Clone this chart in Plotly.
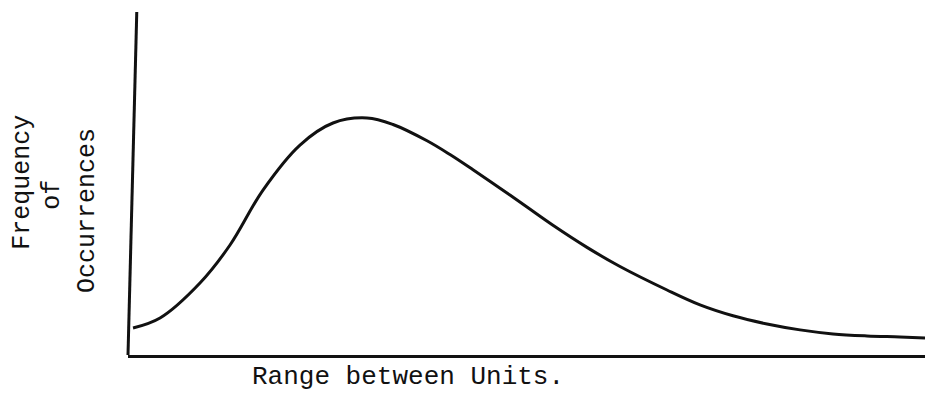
import plotly.graph_objects as go

# Curve (arbitrary units: x 0-100 along axis, y 0-100 up the axis)
range_units = [0.63, 4.02, 9.03, 12.80, 16.94, 21.58, 25.72, 29.99, 33.25, 37.52, 40.40,
               43.29, 46.68, 50.06, 53.32, 57.59, 61.73, 67.63, 71.77, 75.91, 80.18,
               84.32, 88.46, 92.72, 96.86, 100.0]
frequency = [7.87, 10.79, 20.99, 32.07, 48.10, 61.22, 67.64, 69.10, 67.20, 62.45, 58.43,
             53.99, 48.63, 43.12, 37.81, 31.37, 25.80, 18.95, 14.61, 11.43, 9.04,
             7.32, 6.15, 5.57, 5.28, 4.99]

x_title = "Range between Units."
y_title_lines = ["Frequency", "of", "Occurrences"]

FONT = "Courier New, Liberation Mono, monospace"
INK = "#111111"

fig = go.Figure()
fig.add_trace(go.Scatter(
    x=range_units, y=frequency, mode="lines",
    line=dict(color=INK, width=3, shape="spline", smoothing=1.0),
    hoverinfo="skip", showlegend=False,
))

# y-title lines: slightly staggered as in the typed original
ylab_pos = [(-0.1317, 0.502), (-0.0941, 0.467), (-0.0502, 0.423)]
annotations = [
    dict(text=x_title, xref="paper", yref="paper", x=0.351, y=-0.1137,
         xanchor="center", yanchor="bottom", showarrow=False,
         font=dict(family=FONT, size=26, color=INK)),
]
for line, (px, py) in zip(y_title_lines, ylab_pos):
    annotations.append(dict(text=line, xref="paper", yref="paper", x=px, y=py,
                            xanchor="center", yanchor="middle", textangle=-90,
                            showarrow=False,
                            font=dict(family=FONT, size=25, color=INK)))

fig.update_layout(
    width=927, height=394,
    margin=dict(l=128, r=2, t=12, b=39),
    paper_bgcolor="white", plot_bgcolor="white",
    xaxis=dict(range=[0, 100], showgrid=False, zeroline=False, showticklabels=False,
               ticks="", showline=True, linecolor=INK, linewidth=3),
    yaxis=dict(range=[0, 100], showgrid=False, zeroline=False, showticklabels=False,
               ticks="", showline=False),
    shapes=[dict(type="line", xref="paper", yref="paper",
                 x0=0.0, y0=0.0, x1=0.011, y1=1.0,
                 line=dict(color=INK, width=3))],
    annotations=annotations,
)

fig.write_html("out.html", config={"displayModeBar": False},
               post_script="document.body.style.margin='0';document.body.style.overflow='hidden';")
